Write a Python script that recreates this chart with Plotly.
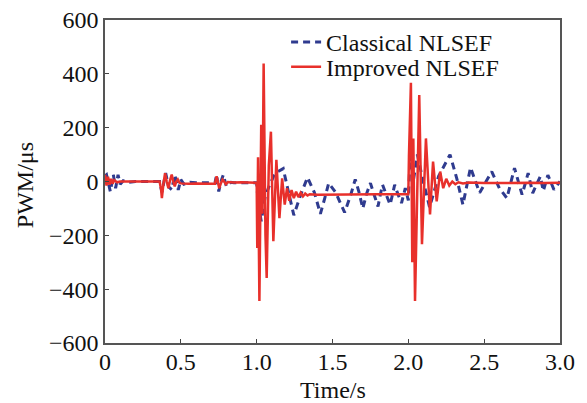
import plotly.graph_objects as go

# Classical NLSEF (blue dashed)
t_classical = [0, 0.01, 0.02, 0.035, 0.055, 0.07, 0.086, 0.1, 0.12, 0.15, 0.2, 0.3, 0.36,
               0.375, 0.39, 0.40, 0.42, 0.44, 0.46, 0.483, 0.50, 0.52, 0.54, 0.56, 0.6, 0.7,
               0.725, 0.736, 0.75, 0.765, 0.78, 0.80, 0.83, 0.85, 0.9, 0.95, 0.99,
               1.0, 1.01, 1.03, 1.055, 1.08, 1.12, 1.175, 1.21, 1.245, 1.29, 1.335, 1.38,
               1.42, 1.45, 1.475, 1.52, 1.58, 1.62, 1.65, 1.675, 1.70, 1.725, 1.75, 1.775,
               1.80, 1.815, 1.83, 1.855, 1.88, 1.895, 1.91, 1.93, 1.955, 1.98, 2.0, 2.012,
               2.035, 2.06, 2.09, 2.14, 2.2, 2.275, 2.32, 2.36, 2.41, 2.47, 2.55, 2.6, 2.65,
               2.70, 2.75, 2.79, 2.82, 2.87, 2.89, 2.92, 2.96, 3.0]
v_classical = [20, 25, 0, -37, 25, -25, 25, -10, 3, -3, 0, 0, 0,
               -40, 10, 31, -20, -30, 25, -31, 7, -10, -7, -3, -5, -5,
               -5, 25, -37, 0, 25, -18, -3, -5, -4, -5, -5,
               -5, -80, -148, -60, -20, 30, 48, -40, -125, -50, 15, -40,
               -120, -60, -6, -40, -115, -50, 8, -40, -100, -45, -6, -50,
               -93, -50, -12, -50, -86, -50, -12, -45, -80, -25, -70, 95,
               10, 100, 20, -95, 20, 100, 10, -86, 52, -42, 37, -25, -62,
               50, -49, 31, -43, 19, -35, 24, -30, 0]

# Improved NLSEF (red solid)
t_improved = [0, 0.01, 0.02, 0.03, 0.04, 0.05, 0.06, 0.08, 0.1, 0.2, 0.3, 0.36, 0.37,
              0.375, 0.385, 0.396, 0.407, 0.418, 0.429, 0.44, 0.45, 0.46, 0.47, 0.48,
              0.49, 0.5, 0.55, 0.6, 0.7, 0.725, 0.736, 0.745, 0.753, 0.765, 0.775, 0.786,
              0.797, 0.81, 0.85, 0.9, 0.95, 0.99,
              1.0, 1.004, 1.009, 1.018, 1.030, 1.038, 1.046, 1.058, 1.066, 1.080, 1.094,
              1.110, 1.130, 1.150, 1.168, 1.185, 1.200, 1.215, 1.230, 1.245, 1.26, 1.275,
              1.29, 1.305, 1.32, 1.335, 1.35, 1.4, 1.5, 1.6, 1.7, 1.8, 1.9, 2.0,
              2.004, 2.017, 2.026, 2.033, 2.044, 2.058, 2.072, 2.090, 2.116, 2.143, 2.163,
              2.187, 2.21, 2.23, 2.25, 2.27, 2.29, 2.31, 2.33, 2.36, 2.4, 2.5, 2.6, 2.7,
              2.8, 2.9, 3.0]
v_improved = [25, -15, 18, -12, 10, -8, 5, -3, 0, 0, 0, 0, -30,
              -62, -10, 31, 0, -25, 5, 26, 0, -18, 0, 8,
              -4, -7, -8, -7, -8, -8, 19, 0, -25, -5, 7, 0,
              -10, -2, -4, -3, -4, -5,
              -5, -247, 90, -444, 211, -120, 438, -200, -358, 60, 185,
              -222, 81, -136, 12, -86, -25, -72, -32, -62, -38, -58,
              -42, -55, -45, -52, -47, -49, -48, -48, -48, -47, -47, -47,
              93, 367, -300, 160, -444, 0, 321, -233, 160, -122, 74,
              -74, 37, -25, 10, -15, 0, -10, -3, -7, -4, -6, -5, -6,
              -5, -6, -5]

x_ticks = [0, 0.5, 1.0, 1.5, 2.0, 2.5, 3.0]
x_labels = ["0", "0.5", "1.0", "1.5", "2.0", "2.5", "3.0"]
y_ticks = [-600, -400, -200, 0, 200, 400, 600]

fig = go.Figure()
fig.add_trace(go.Scatter(x=t_classical, y=v_classical, mode="lines", name="Classical NLSEF",
                         line=dict(color="#2f3b8f", width=3, dash="7px,5px"), legend="legend"))
fig.add_trace(go.Scatter(x=t_improved, y=v_improved, mode="lines", name="Improved NLSEF",
                         line=dict(color="#e8302b", width=2.5), legend="legend2"))

font = "Liberation Serif, Times New Roman, serif"
# the page puts the figure 8px in from the top-left corner, so margins allow for that
fig.update_layout(
    width=587, height=403,
    margin=dict(l=97, r=35, t=12, b=68, autoexpand=False),
    plot_bgcolor="white", paper_bgcolor="white",
    font=dict(family=font, size=24, color="#111"),
    showlegend=True,
    legend=dict(x=0.398, y=1.0, xanchor="left", yanchor="top", bgcolor="rgba(0,0,0,0)",
                font=dict(size=24)),
    legend2=dict(x=0.398, y=0.924, xanchor="left", yanchor="top", bgcolor="rgba(0,0,0,0)",
                 font=dict(size=24)),
)
fig.update_xaxes(range=[0, 3], tickvals=x_ticks, ticktext=x_labels, ticks="inside", ticklen=4,
                 showline=True, linecolor="#555", linewidth=1.5, mirror=True, showgrid=False,
                 zeroline=False, automargin=False, ticklabelstandoff=-4,
                 ticklabeloverflow="allow")
fig.update_yaxes(range=[-600, 600], tickvals=y_ticks, ticks="inside", ticklen=4,
                 showline=True, linecolor="#555", linewidth=1.5, mirror=True, showgrid=False,
                 zeroline=False, automargin=False, ticklabeloverflow="allow")

fig.add_annotation(text="Time/s", xref="paper", yref="paper", x=0.5, y=-0.147,
                   xanchor="center", yanchor="middle", showarrow=False, font=dict(size=24))
fig.add_annotation(text="PWM/μs", xref="paper", yref="paper", x=-0.174, y=0.488, textangle=-90,
                   xanchor="center", yanchor="middle", showarrow=False, font=dict(size=24))

fig.write_html("out.html")
